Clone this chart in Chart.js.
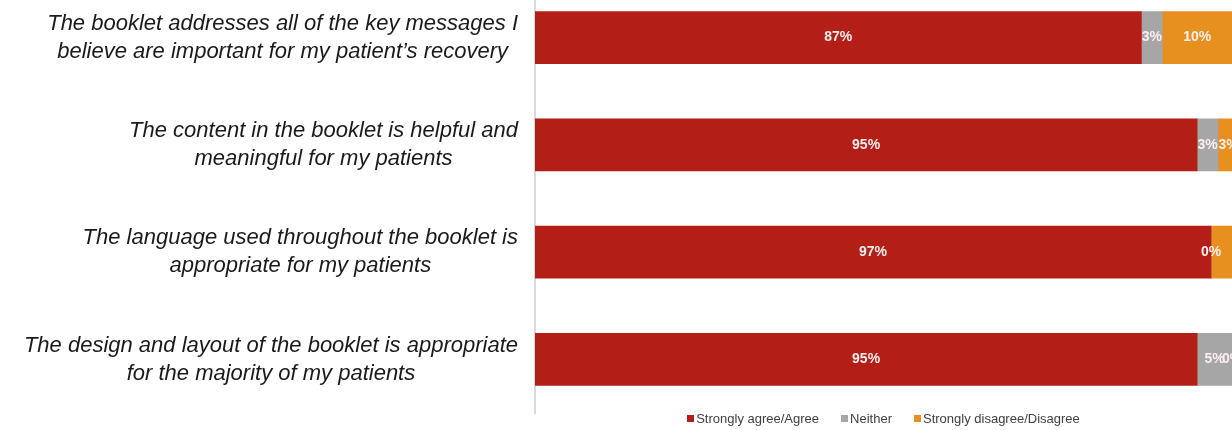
<!DOCTYPE html>
<html>
<head>
<meta charset="utf-8">
<script src="https://cdn.jsdelivr.net/npm/chart.js@4/dist/chart.umd.min.js"></script>
<style>
  html, body { margin: 0; padding: 0; background: #fff; }
  #wrap { position: relative; width: 1232px; height: 430px; overflow: hidden; }
  #box { position: absolute; left: 0; top: -16px; width: 1232px; height: 446px; }
  #legend {
    position: absolute; left: 535px; width: 697px; top: 411px; line-height: 15px;
    text-align: center; font: 13px "Liberation Sans", Arial, sans-serif; color: #404040;
  }
  #legend span.item { display: inline-block; margin: 0 11px; }
  #legend i { display: inline-block; width: 7px; height: 7px; margin-right: 2px; vertical-align: 1px; }
</style>
</head>
<body>
<div id="wrap">
  <div id="box"><canvas id="surveyChart"></canvas></div>
  <div id="legend"></div>
</div>
<script>
// Statements (each one split over two lines)
const statements = [
    ['The booklet addresses all of the key messages I', 'believe are important for my patient\u2019s recovery'],
    ['The content in the booklet is helpful and', 'meaningful for my patients'],
    ['The language used throughout the booklet is', 'appropriate for my patients'],
    ['The design and layout of the booklet is appropriate', 'for the majority of my patients']
];

// Percent of respondents per answer
const agree = [87, 95, 97, 95];
const neither = [3, 3, 0, 5];
const disagree = [10, 3, 3, 0];

const seriesNames = ['Strongly agree/Agree', 'Neither', 'Strongly disagree/Disagree'];
const seriesColors = ['#B31F16', '#A6A6A6', '#E8901F'];

// value labels left off on purpose: [datasetIndex, categoryIndex]
const hiddenLabels = [[2, 2]];

// percent labels in the middle of each segment
const valueLabels = {
    id: 'valueLabels',
    afterDatasetsDraw(chart) {
        const c = chart.ctx;
        c.save();
        c.font = 'bold 14px "Liberation Sans", Arial, sans-serif';
        c.fillStyle = '#fbeeee';
        c.textAlign = 'center';
        c.textBaseline = 'middle';
        chart.data.datasets.forEach((ds, di) => {
            chart.getDatasetMeta(di).data.forEach((bar, i) => {
                if (hiddenLabels.some(h => h[0] === di && h[1] === i)) return;
                const x = (bar.x + bar.base) / 2;
                c.fillText(ds.data[i] + '%', x, bar.y);
            });
        });
        c.restore();
    }
};

// statement text: block right-aligned against the axis, lines centred inside it
const statementLabels = {
    id: 'statementLabels',
    afterDraw(chart) {
        const c = chart.ctx;
        const yScale = chart.scales.y;
        const right = chart.chartArea.left - 17;
        const lineH = 28;
        c.save();
        c.font = 'italic 22px "Liberation Sans", Arial, sans-serif';
        c.fillStyle = '#1a1a1a';
        c.textAlign = 'center';
        c.textBaseline = 'middle';
        statements.forEach((lines, i) => {
            const w = Math.max(...lines.map(l => c.measureText(l).width));
            const cx = right - w / 2;
            const cy = yScale.getPixelForValue(i);
            lines.forEach((l, k) => {
                c.fillText(l, cx, cy + (k - (lines.length - 1) / 2) * lineH);
            });
        });
        c.restore();
    }
};

const ctx = document.getElementById('surveyChart');

new Chart(ctx, {
    type: 'bar',
    data: {
        labels: statements,
        datasets: [agree, neither, disagree].map((d, i) => ({
            label: seriesNames[i],
            data: d,
            backgroundColor: seriesColors[i],
            borderWidth: 0,
            barThickness: 52
        }))
    },
    options: {
        indexAxis: 'y',
        responsive: true,
        maintainAspectRatio: false,
        animation: false,
        layout: { padding: { left: 527, right: 0, top: 0, bottom: 17 } },
        plugins: {
            legend: { display: false },
            tooltip: { enabled: false }
        },
        scales: {
            x: { stacked: true, display: false, min: 0, max: 100 },
            y: {
                stacked: true,
                grid: { display: false },
                ticks: { display: false },
                border: { display: true, color: '#d9d9d9', width: 2 }
            }
        }
    },
    plugins: [valueLabels, statementLabels]
});

// legend row under the bars
const legend = document.getElementById('legend');
seriesNames.forEach((name, i) => {
    const item = document.createElement('span');
    item.className = 'item';
    item.innerHTML = '<i style="background:' + seriesColors[i] + '"></i>' + name;
    legend.appendChild(item);
});
</script>
</body>
</html>
